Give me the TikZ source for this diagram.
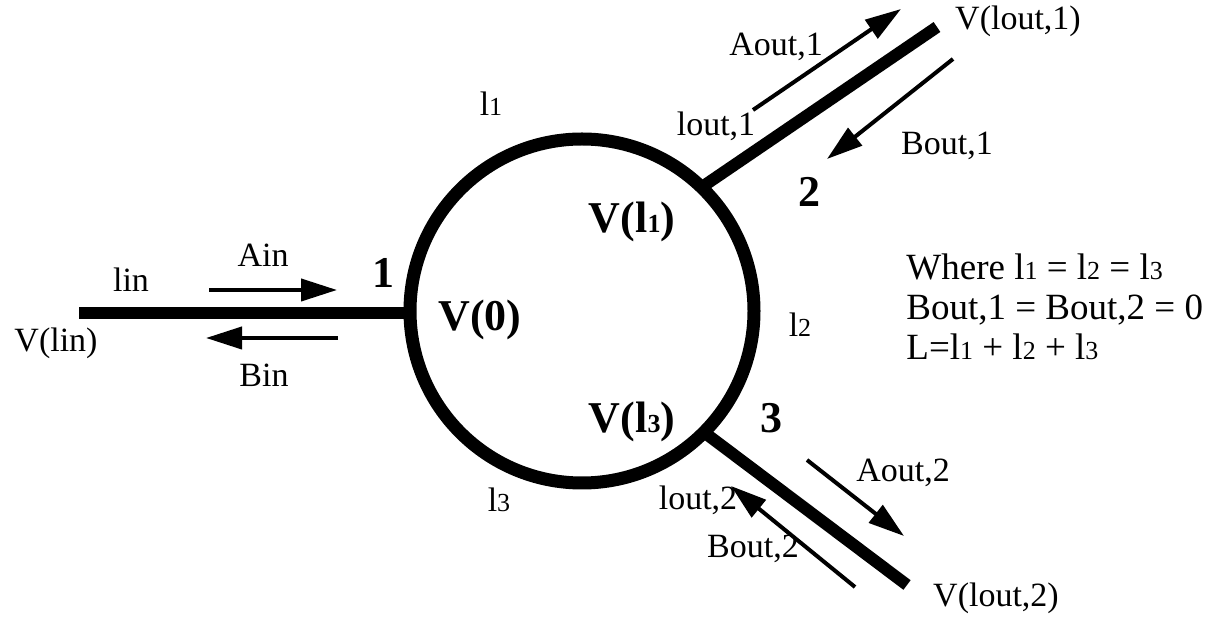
\documentclass[tikz,border=0pt]{standalone}
\usepackage{fontspec}
\setmainfont{Liberation Serif}
\usetikzlibrary{arrows.meta}
\tikzset{
  wire/.style={line width=6pt, line cap=butt},
  flow/.style={line width=2pt, -{Triangle[length=18pt,width=11pt]}},
  lab/.style={font=\fontsize{17}{19}\selectfont, inner sep=0pt},
  port/.style={font=\fontsize{22}{24}\selectfont\bfseries, inner sep=0pt},
}
\newcommand{\ls}[1]{l{\fontsize{13}{14}\selectfont #1}}

\begin{document}
\begin{tikzpicture}[x=0.5pt, y=-0.5pt]
    \useasboundingbox (0,0) rectangle (1205,619);

    % ring and the three lines
    \coordinate (ctr) at (582,311);
    \coordinate (j1) at (410,313);
    \coordinate (j2) at (702,187);
    \coordinate (j3) at (705,433);
    \coordinate (e1) at (79,313);
    \coordinate (e2) at (937,27);
    \coordinate (e3) at (907,585);
    \draw[wire] (e1) -- (j1);
    \draw[wire] (j2) -- (e2);
    \draw[wire] (j3) -- (e3);
    \draw[line width=6.5pt] (ctr) circle [radius=172];

    % waves
    \coordinate (ain-s) at (209,290);   \coordinate (ain-t) at (337,290);
    \coordinate (bin-s) at (338,338);   \coordinate (bin-t) at (206,338);
    \coordinate (aout1-s) at (753,110); \coordinate (aout1-t) at (901,9);
    \coordinate (bout1-s) at (953,59);  \coordinate (bout1-t) at (827,159);
    \coordinate (aout2-s) at (807,460); \coordinate (aout2-t) at (904,536);
    \coordinate (bout2-s) at (855,587); \coordinate (bout2-t) at (731,486);
    \draw[flow] (ain-s) -- (ain-t);
    \draw[flow] (bin-s) -- (bin-t);
    \draw[flow] (aout1-s) -- (aout1-t);
    \draw[flow] (bout1-s) -- (bout1-t);
    \draw[flow] (aout2-s) -- (aout2-t);
    \draw[flow] (bout2-s) -- (bout2-t);

    % labels on the input side
    \node[lab] (lin) at (131,280) {lin};
    \node[lab] (vlin) at (56,343) {V(lin)};
    \node[lab] (ain) at (263,255) {Ain};
    \node[lab] (bin) at (264,375) {Bin};
    \node[port] (p1) at (383,273) {1};

    % labels round the ring
    \node[port] (v0) at (480,320) {V(0)};
    \node[port] (vl1) at (632,222) {V(\ls{1})};
    \node[port] (vl3) at (632,422) {V(\ls{3})};
    \node[lab] (l1) at (491,104) {\ls{1}};
    \node[lab] (l2) at (800,325) {\ls{2}};
    \node[lab] (l3) at (499,500) {\ls{3}};

    % labels on the output side
    \node[lab] (lout1) at (716,126) {lout,1};
    \node[lab] (aout1) at (776,47) {Aout,1};
    \node[lab] (vlout1) at (1018,21) {V(lout,1)};
    \node[lab] (bout1) at (947,146) {Bout,1};
    \node[port] (p2) at (809,192) {2};
    \node[port] (p3) at (771,418) {3};
    \node[lab] (aout2) at (903,473) {Aout,2};
    \node[lab] (lout2) at (698,500) {lout,2};
    \node[lab] (bout2) at (753,549) {Bout,2};
    \node[lab] (vlout2) at (996,598) {V(lout,2)};

    % conditions
    \node[lab, anchor=west, align=left, font=\fontsize{18.5}{20}\selectfont] (cond) at (906,307)
        {Where \ls{1} = \ls{2} = \ls{3}\\ Bout,1 = Bout,2 = 0\\ L=\ls{1} + \ls{2} + \ls{3}};
\end{tikzpicture}
\end{document}
